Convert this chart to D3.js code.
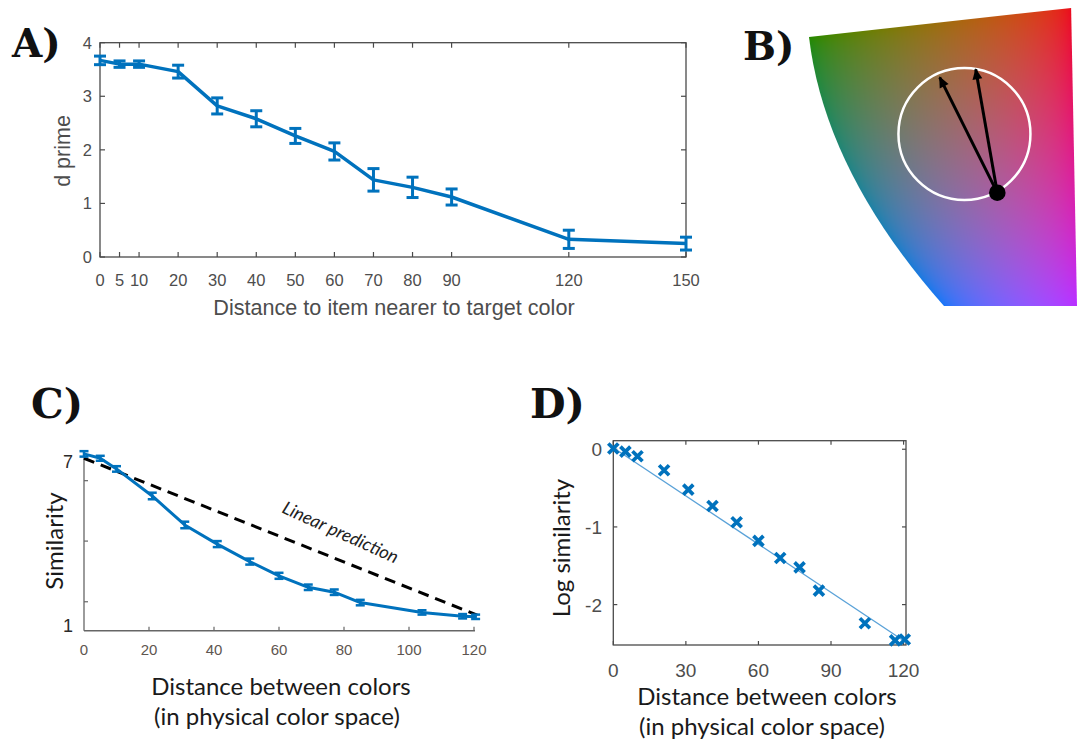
<!DOCTYPE html>
<html>
<head>
<meta charset="utf-8">
<script src="https://cdn.jsdelivr.net/npm/d3@7"></script>
<style>
  html, body { margin: 0; padding: 0; background: #fff; }
  svg { display: block; }
</style>
</head>
<body>
<script>
// ---------- Panel A: d prime vs distance to the nearer item ----------
const distanceA   = [0, 5, 10, 20, 30, 40, 50, 60, 70, 80, 90, 120, 150];
const dprime      = [3.67, 3.60, 3.60, 3.46, 2.82, 2.58, 2.26, 1.97, 1.44, 1.30, 1.12, 0.33, 0.25];
const dprimeErr   = [0.08, 0.06, 0.06, 0.12, 0.15, 0.15, 0.14, 0.16, 0.21, 0.19, 0.15, 0.17, 0.12];
const ticksAX     = [0, 5, 10, 20, 30, 40, 50, 60, 70, 80, 90, 120, 150];
const ticksAY     = [0, 1, 2, 3, 4];

// ---------- Panel C: similarity ratings vs physical distance ----------
const distanceCD    = [0, 5, 10, 21, 31, 41, 51, 60, 69, 77, 85, 104, 116.5, 120.5];
const similarity    = [7.26, 7.10, 6.71, 5.72, 4.66, 3.96, 3.32, 2.80, 2.38, 2.20, 1.82, 1.46, 1.32, 1.30];
const similarityErr = [0.10, 0.09, 0.10, 0.12, 0.12, 0.11, 0.11, 0.11, 0.10, 0.10, 0.10, 0.08, 0.08, 0.08];
const linearPredX   = [0, 121];
const linearPredY   = [7.10, 1.36];
const ticksCX       = [0, 20, 40, 60, 80, 100, 120];
const ticksCYLabel  = [1, 7];
const ticksCYMinor  = [1.85, 4.07, 6.28];

// ---------- Panel D: log similarity with linear fit ----------
const logSimilarity = [0.01, -0.03, -0.09, -0.27, -0.52, -0.73, -0.94, -1.18, -1.40, -1.52, -1.82, -2.24, -2.46, -2.45];
const fitCoef       = [0.02, -0.0207];   // intercept, slope
const ticksDX       = [0, 30, 60, 90, 120];
const ticksDY       = [0, -1, -2];

// ---------- Panel B: colour-space slice (unit coordinates) ----------
const colourAnchorsU = [0.011, 0.974, 0.507, 0.985];
const colourAnchorsV = [0.114, 0.013, 0.990, 0.980];
const colourAnchors  = ["#288700", "#eb1423", "#0078ff", "#b92df5"];
// corners: top-left, top-right, bottom-right, bottom-left; then the curved edge's control point
const sliceCornerU   = [0.000, 0.978, 1.000, 0.5037];
const sliceCornerV   = [0.097, 0.000, 1.000, 1.000];
const sliceCurveCtrl = [0.0597, 0.5487];

const BLUE = "#0072BD";
const AXIS = "#4a4a4a";
const TICKTXT = "#4d4d4d";
const SANS = "'Liberation Sans', Arial, sans-serif";
const HUMAN = "Lato, 'Open Sans', sans-serif";
const SERIF = "'DejaVu Serif', serif";

const svg = d3.select("body").append("svg")
  .attr("width", 1078).attr("height", 742)
  .attr("viewBox", "0 0 1078 742");

function panelLabel(x, y, txt, size) {
  svg.append("text").attr("x", x).attr("y", y)
    .attr("font-family", SERIF).attr("font-weight", "bold")
    .attr("font-size", size).attr("fill", "#111").text(txt);
}

// =================== Panel A ===================
{
  const x = d3.scaleLinear().domain([0, 150]).range([100, 686]);
  const y = d3.scaleLinear().domain([0, 4]).range([257, 42.7]);
  const g = svg.append("g");

  g.append("rect").attr("x", x(0)).attr("y", y(4))
    .attr("width", x(150) - x(0)).attr("height", y(0) - y(4))
    .attr("fill", "none").attr("stroke", AXIS).attr("stroke-width", 1.3);

  // inward ticks on all four sides
  const tl = 5;
  ticksAX.forEach(t => {
    g.append("line").attr("x1", x(t)).attr("x2", x(t)).attr("y1", y(0)).attr("y2", y(0) - tl)
      .attr("stroke", AXIS).attr("stroke-width", 1.2);
    g.append("line").attr("x1", x(t)).attr("x2", x(t)).attr("y1", y(4)).attr("y2", y(4) + tl)
      .attr("stroke", AXIS).attr("stroke-width", 1.2);
  });
  ticksAY.forEach(t => {
    g.append("line").attr("x1", x(0)).attr("x2", x(0) + tl).attr("y1", y(t)).attr("y2", y(t))
      .attr("stroke", AXIS).attr("stroke-width", 1.2);
    g.append("line").attr("x1", x(150)).attr("x2", x(150) - tl).attr("y1", y(t)).attr("y2", y(t))
      .attr("stroke", AXIS).attr("stroke-width", 1.2);
  });

  g.selectAll(".xl").data(ticksAX).join("text")
    .attr("x", d => x(d)).attr("y", 286).attr("text-anchor", "middle")
    .attr("font-family", SANS).attr("font-size", 16.5).attr("fill", TICKTXT).text(d => d);
  g.selectAll(".yl").data(ticksAY).join("text")
    .attr("x", 92).attr("y", d => y(d) + 6).attr("text-anchor", "end")
    .attr("font-family", SANS).attr("font-size", 16.5).attr("fill", TICKTXT).text(d => d);

  g.append("text").attr("x", 394).attr("y", 315).attr("text-anchor", "middle")
    .attr("font-family", SANS).attr("font-size", 21.6).attr("fill", TICKTXT)
    .text("Distance to item nearer to target color");
  g.append("text").attr("transform", "translate(70,151) rotate(-90)").attr("text-anchor", "middle")
    .attr("font-family", SANS).attr("font-size", 21.5).attr("fill", TICKTXT).text("d prime");

  const pts = distanceA.map((d, i) => [d, dprime[i], dprimeErr[i]]);
  g.append("path").datum(pts)
    .attr("d", d3.line().x(d => x(d[0])).y(d => y(d[1])))
    .attr("fill", "none").attr("stroke", BLUE).attr("stroke-width", 3.5).attr("stroke-linejoin", "round");
  const cap = 6;
  const eb = g.selectAll(".eb").data(pts).join("g");
  eb.append("line").attr("x1", d => x(d[0])).attr("x2", d => x(d[0]))
    .attr("y1", d => y(d[1] - d[2])).attr("y2", d => y(d[1] + d[2]))
    .attr("stroke", BLUE).attr("stroke-width", 3);
  [-1, 1].forEach(s => eb.append("line")
    .attr("x1", d => x(d[0]) - cap).attr("x2", d => x(d[0]) + cap)
    .attr("y1", d => y(d[1] + s * d[2])).attr("y2", d => y(d[1] + s * d[2]))
    .attr("stroke", BLUE).attr("stroke-width", 3));

  panelLabel(12, 57, "A)", 39);
}

// =================== Panel B ===================
{
  const bx = d3.scaleLinear().domain([0, 1]).range([809, 1077]);
  const by = d3.scaleLinear().domain([0, 1]).range([8, 306]);
  const cw = 268, ch = 298;

  // affine fit of L, a, b over the anchor colours (a constant-lightness Lab plane)
  const labs = colourAnchors.map(c => d3.lab(c));
  function fit(vals) {
    let n = 0, su = 0, sv = 0, suu = 0, svv = 0, suv = 0, sf = 0, suf = 0, svf = 0;
    vals.forEach((f, i) => {
      const u = colourAnchorsU[i], v = colourAnchorsV[i];
      n++; su += u; sv += v; suu += u * u; svv += v * v; suv += u * v;
      sf += f; suf += u * f; svf += v * f;
    });
    const M = [[n, su, sv], [su, suu, suv], [sv, suv, svv]];
    const r = [sf, suf, svf];
    const det = m => m[0][0] * (m[1][1] * m[2][2] - m[1][2] * m[2][1])
                   - m[0][1] * (m[1][0] * m[2][2] - m[1][2] * m[2][0])
                   + m[0][2] * (m[1][0] * m[2][1] - m[1][1] * m[2][0]);
    const D = det(M);
    return [0, 1, 2].map(k => det(M.map((row, i) => row.map((v, j) => j === k ? r[i] : v))) / D);
  }
  const cL = fit(labs.map(c => c.l)), cA = fit(labs.map(c => c.a)), cB = fit(labs.map(c => c.b));

  const canvas = document.createElement("canvas");
  canvas.width = cw; canvas.height = ch;
  const ctx = canvas.getContext("2d");
  const img = ctx.createImageData(cw, ch);
  for (let py = 0; py < ch; py++) {
    for (let px = 0; px < cw; px++) {
      const u = (px + 0.5) / cw, v = (py + 0.5) / ch;
      const c = d3.lab(cL[0] + cL[1] * u + cL[2] * v,
                       cA[0] + cA[1] * u + cA[2] * v,
                       cB[0] + cB[1] * u + cB[2] * v).rgb();
      const k = (py * cw + px) * 4;
      img.data[k] = c.r; img.data[k + 1] = c.g; img.data[k + 2] = c.b; img.data[k + 3] = 255;
    }
  }
  ctx.putImageData(img, 0, 0);

  const defs = svg.append("defs");
  const corners = sliceCornerU.map((u, i) => [bx(u), by(sliceCornerV[i])]);
  const p = d3.path();
  p.moveTo(...corners[0]);
  p.lineTo(...corners[1]);
  p.lineTo(...corners[2]);
  p.lineTo(...corners[3]);
  p.quadraticCurveTo(bx(sliceCurveCtrl[0]), by(sliceCurveCtrl[1]), ...corners[0]);
  p.closePath();
  defs.append("clipPath").attr("id", "slice").append("path").attr("d", p.toString());
  defs.append("marker").attr("id", "head").attr("viewBox", "0 -5 10 10")
    .attr("refX", 9).attr("refY", 0).attr("markerWidth", 13).attr("markerHeight", 11)
    .attr("markerUnits", "userSpaceOnUse").attr("orient", "auto")
    .append("path").attr("d", "M0,-4.5L10,0L0,4.5Z").attr("fill", "#000");

  svg.append("image").attr("x", bx(0)).attr("y", by(0))
    .attr("width", cw).attr("height", ch)
    .attr("preserveAspectRatio", "none")
    .attr("href", canvas.toDataURL())
    .attr("clip-path", "url(#slice)");

  // similarity circle around the target colour, with two probe arrows
  svg.append("circle").attr("cx", bx(0.580)).attr("cy", by(0.423)).attr("r", 66)
    .attr("fill", "none").attr("stroke", "#fff").attr("stroke-width", 2.5);
  const origin = [bx(0.7026), by(0.6198)];
  [[0.4877, 0.2326], [0.6220, 0.2057]].forEach(([u, v]) => {
    svg.append("line").attr("x1", origin[0]).attr("y1", origin[1])
      .attr("x2", bx(u)).attr("y2", by(v))
      .attr("stroke", "#000").attr("stroke-width", 3).attr("marker-end", "url(#head)");
  });
  svg.append("circle").attr("cx", origin[0]).attr("cy", origin[1]).attr("r", 8.3).attr("fill", "#000");

  panelLabel(743, 60, "B)", 39);
}

// =================== Panel C ===================
{
  const x = d3.scaleLinear().domain([0, 120]).range([84, 474]);
  const y = d3.scaleLinear().domain([1, 7]).range([625, 461]);
  const g = svg.append("g");
  const yBottom = y(0.79), yTop = y(7.3);

  g.append("line").attr("x1", x(0)).attr("x2", x(120.3)).attr("y1", yBottom).attr("y2", yBottom)
    .attr("stroke", "#666").attr("stroke-width", 1.3);
  g.append("line").attr("x1", x(0)).attr("x2", x(0)).attr("y1", yBottom).attr("y2", yTop)
    .attr("stroke", "#666").attr("stroke-width", 1.3);
  ticksCX.slice(1).forEach(t => g.append("line").attr("x1", x(t)).attr("x2", x(t))
    .attr("y1", yBottom).attr("y2", yBottom - 4).attr("stroke", "#666").attr("stroke-width", 1.2));
  ticksCYMinor.forEach(t => g.append("line").attr("x1", x(0)).attr("x2", x(0) + 4)
    .attr("y1", y(t)).attr("y2", y(t)).attr("stroke", "#666").attr("stroke-width", 1.2));

  g.selectAll(".cx").data(ticksCX).join("text")
    .attr("x", d => x(d)).attr("y", 655).attr("text-anchor", "middle")
    .attr("font-family", SANS).attr("font-size", 15).attr("fill", "#5e5650").text(d => d);
  g.selectAll(".cy").data(ticksCYLabel).join("text")
    .attr("x", 73).attr("y", d => y(d) + 6.5).attr("text-anchor", "end")
    .attr("font-family", SANS).attr("font-size", 18).attr("fill", "#2a2a2a").text(d => d);

  // linear prediction between the end points
  g.append("line").attr("x1", x(linearPredX[0])).attr("y1", y(linearPredY[0]))
    .attr("x2", x(linearPredX[1])).attr("y2", y(linearPredY[1]))
    .attr("stroke", "#000").attr("stroke-width", 3).attr("stroke-dasharray", "11,7");
  const ang = Math.atan2(y(linearPredY[1]) - y(linearPredY[0]), x(linearPredX[1]) - x(linearPredX[0])) * 180 / Math.PI;
  g.append("text").attr("transform", `translate(338,538) rotate(${ang + 2.5})`)
    .attr("text-anchor", "middle").attr("font-family", HUMAN).attr("font-style", "italic")
    .attr("font-size", 18).attr("fill", "#222").text("Linear prediction");

  const pts = distanceCD.map((d, i) => [d, similarity[i], similarityErr[i]]);
  g.append("path").datum(pts)
    .attr("d", d3.line().x(d => x(d[0])).y(d => y(d[1])))
    .attr("fill", "none").attr("stroke", BLUE).attr("stroke-width", 3).attr("stroke-linejoin", "round");
  const cap = 4.5;
  const eb = g.selectAll(".eb").data(pts).join("g");
  eb.append("line").attr("x1", d => x(d[0])).attr("x2", d => x(d[0]))
    .attr("y1", d => y(d[1] - d[2])).attr("y2", d => y(d[1] + d[2]))
    .attr("stroke", BLUE).attr("stroke-width", 2.5);
  [-1, 1].forEach(s => eb.append("line")
    .attr("x1", d => x(d[0]) - cap).attr("x2", d => x(d[0]) + cap)
    .attr("y1", d => y(d[1] + s * d[2])).attr("y2", d => y(d[1] + s * d[2]))
    .attr("stroke", BLUE).attr("stroke-width", 2.5));

  g.append("text").attr("transform", "translate(63,541) rotate(-90)").attr("text-anchor", "middle")
    .attr("font-family", HUMAN).attr("font-size", 24).attr("fill", "#1a1a1a").text("Similarity");
  g.append("text").attr("x", 281).attr("y", 695).attr("text-anchor", "middle")
    .attr("font-family", HUMAN).attr("font-size", 24).attr("fill", "#1a1a1a").text("Distance between colors");
  g.append("text").attr("x", 277).attr("y", 725).attr("text-anchor", "middle")
    .attr("font-family", HUMAN).attr("font-size", 24).attr("fill", "#1a1a1a").text("(in physical color space)");

  panelLabel(31, 418, "C)", 41);
}

// =================== Panel D ===================
{
  const x = d3.scaleLinear().domain([0, 121]).range([613.3, 906]);
  const y = d3.scaleLinear().domain([-2.52, 0.11]).range([645, 440.7]);
  const g = svg.append("g");

  g.append("rect").attr("x", x(0)).attr("y", y(0.11))
    .attr("width", x(121) - x(0)).attr("height", y(-2.52) - y(0.11))
    .attr("fill", "none").attr("stroke", AXIS).attr("stroke-width", 1.3);
  const tl = 4;
  ticksDX.forEach(t => {
    g.append("line").attr("x1", x(t)).attr("x2", x(t)).attr("y1", y(-2.52)).attr("y2", y(-2.52) - tl)
      .attr("stroke", AXIS).attr("stroke-width", 1.2);
    g.append("line").attr("x1", x(t)).attr("x2", x(t)).attr("y1", y(0.11)).attr("y2", y(0.11) + tl)
      .attr("stroke", AXIS).attr("stroke-width", 1.2);
  });
  ticksDY.forEach(t => {
    g.append("line").attr("x1", x(0)).attr("x2", x(0) + tl).attr("y1", y(t)).attr("y2", y(t))
      .attr("stroke", AXIS).attr("stroke-width", 1.2);
    g.append("line").attr("x1", x(121)).attr("x2", x(121) - tl).attr("y1", y(t)).attr("y2", y(t))
      .attr("stroke", AXIS).attr("stroke-width", 1.2);
  });

  g.selectAll(".dx").data(ticksDX).join("text")
    .attr("x", d => x(d)).attr("y", 677).attr("text-anchor", "middle")
    .attr("font-family", SANS).attr("font-size", 19).attr("fill", TICKTXT).text(d => d);
  g.selectAll(".dy").data(ticksDY).join("text")
    .attr("x", 602).attr("y", d => y(d) + 7).attr("text-anchor", "end")
    .attr("font-family", SANS).attr("font-size", 19).attr("fill", TICKTXT).text(d => d);

  g.append("line").attr("x1", x(0)).attr("y1", y(fitCoef[0]))
    .attr("x2", x(121)).attr("y2", y(fitCoef[0] + fitCoef[1] * 121))
    .attr("stroke", "#5aa2d8").attr("stroke-width", 1.3);

  const r = 5;
  g.selectAll(".mk").data(distanceCD.map((d, i) => [d, logSimilarity[i]])).join("path")
    .attr("d", d => `M${x(d[0]) - r},${y(d[1]) - r}L${x(d[0]) + r},${y(d[1]) + r}M${x(d[0]) - r},${y(d[1]) + r}L${x(d[0]) + r},${y(d[1]) - r}`)
    .attr("stroke", BLUE).attr("stroke-width", 3.7).attr("fill", "none");

  g.append("text").attr("transform", "translate(570,548) rotate(-90)").attr("text-anchor", "middle")
    .attr("font-family", HUMAN).attr("font-size", 24).attr("fill", "#1a1a1a").text("Log similarity");
  g.append("text").attr("x", 767).attr("y", 705).attr("text-anchor", "middle")
    .attr("font-family", HUMAN).attr("font-size", 24).attr("fill", "#1a1a1a").text("Distance between colors");
  g.append("text").attr("x", 762).attr("y", 735).attr("text-anchor", "middle")
    .attr("font-family", HUMAN).attr("font-size", 24).attr("fill", "#1a1a1a").text("(in physical color space)");

  panelLabel(530, 418, "D)", 41);
}
</script>
</body>
</html>
